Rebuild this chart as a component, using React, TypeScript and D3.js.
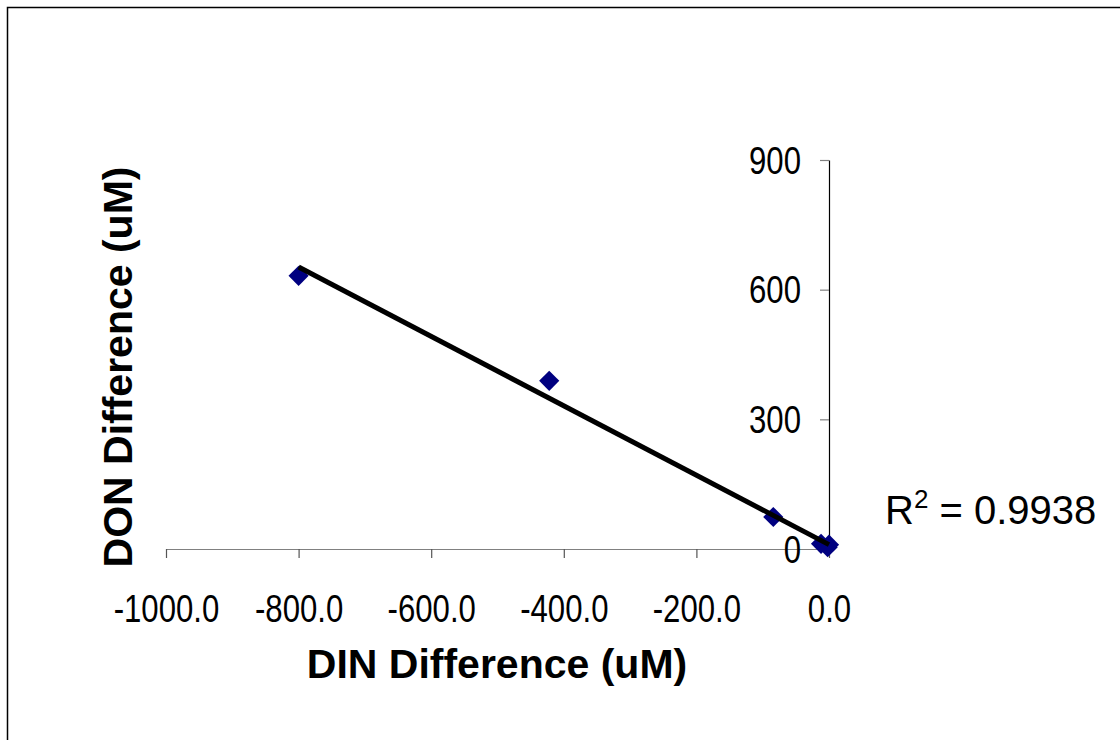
import React, { useEffect, useRef } from "react";
import * as d3 from "d3";

// DIN vs DON difference (uM)
const dinDiff = [-800, -422, -84, -12, -2, 0];
const donDiff = [632, 389, 74, 12, 4, 10];
const xTicks = [-1000, -800, -600, -400, -200, 0];
const yTicks = [0, 300, 600, 900];
const rSquaredLabel = "0.9938";

const W = 1120;
const H = 740;

export default function App() {
  const ref = useRef<SVGSVGElement>(null);

  useEffect(() => {
    const svg = d3.select(ref.current);
    svg.selectAll("*").remove();

    const x = d3.scaleLinear().domain([-1000, 0]).range([166, 829]);
    const y = d3.scaleLinear().domain([0, 900]).range([549, 160]);
    const sans = "'Liberation Sans', Arial, sans-serif";
    // no narrow font installed, squeeze the regular one instead
    const squeeze = 0.82;

    // outer frame, it runs past the right and bottom edges
    svg
      .append("rect")
      .attr("x", 7.5)
      .attr("y", 7.5)
      .attr("width", W + 20)
      .attr("height", H + 20)
      .attr("fill", "white")
      .attr("stroke", "black")
      .attr("stroke-width", 1.5);

    // x axis
    const gx = svg.append("g").attr("transform", `translate(0,${y(0)})`);
    gx.call(
      d3
        .axisBottom(x)
        .tickValues(xTicks)
        .tickSize(9)
        .tickSizeOuter(0)
        .tickFormat((d) => (d as number).toFixed(1))
    );
    gx.select(".domain").attr("stroke", "#808080").attr("stroke-width", 1.2);
    gx.selectAll(".tick line").attr("stroke", "#555").attr("stroke-width", 1.2);
    gx.selectAll(".tick text")
      .attr("font-family", sans)
      .attr("font-size", 38)
      .attr("fill", "black")
      .attr("transform", `scale(${squeeze},1)`)
      .attr("y", 0)
      .attr("dy", 73);

    // y axis, ticks pointing left, labels pushed away from the line
    const gy = svg.append("g").attr("transform", `translate(${x(0)},0)`);
    gy.call(d3.axisLeft(y).tickValues(yTicks).tickSize(9).tickSizeOuter(0).tickFormat(d3.format("d")));
    gy.select(".domain").attr("stroke", "black").attr("stroke-width", 1.2);
    gy.selectAll(".tick line").attr("stroke", "#808080").attr("stroke-width", 1.2);
    gy.selectAll(".tick text")
      .attr("font-family", sans)
      .attr("font-size", 38)
      .attr("fill", "black")
      .attr("transform", `scale(${squeeze},1)`)
      .attr("x", -28 / squeeze)
      .attr("dy", "0.35em");

    // least squares trendline over the data range
    const mx = d3.mean(dinDiff)!;
    const my = d3.mean(donDiff)!;
    let sxy = 0;
    let sxx = 0;
    dinDiff.forEach((v, i) => {
      sxy += (v - mx) * (donDiff[i] - my);
      sxx += (v - mx) * (v - mx);
    });
    const slope = sxy / sxx;
    const icpt = my - slope * mx;
    const [x0, x1] = d3.extent(dinDiff) as [number, number];

    const pts = dinDiff.map((v, i) => [v, donDiff[i]] as [number, number]);

    svg
      .append("g")
      .selectAll("path")
      .data(pts)
      .join("path")
      .attr("d", d3.symbol().type(d3.symbolDiamond2).size(260))
      .attr("transform", (d) => `translate(${x(d[0])},${y(d[1])})`)
      .attr("fill", "#000080");

    svg
      .append("path")
      .datum([
        [x0, slope * x0 + icpt],
        [x1, slope * x1 + icpt],
      ] as [number, number][])
      .attr(
        "d",
        d3
          .line<[number, number]>()
          .x((d) => x(d[0]))
          .y((d) => y(d[1]))
      )
      .attr("stroke", "black")
      .attr("stroke-width", 5)
      .attr("fill", "none");

    // R squared label
    const r2 = svg
      .append("text")
      .attr("x", 885)
      .attr("y", 524)
      .attr("font-family", sans)
      .attr("font-size", 40)
      .attr("fill", "black");
    r2.append("tspan").text("R");
    r2.append("tspan").attr("font-size", 26).attr("dy", -16).text("2");
    r2.append("tspan").attr("dy", 16).text(` = ${rSquaredLabel}`);

    // axis titles
    svg
      .append("text")
      .attr("x", 497)
      .attr("y", 678)
      .attr("text-anchor", "middle")
      .attr("font-family", sans)
      .attr("font-weight", "bold")
      .attr("font-size", 41)
      .text("DIN Difference (uM)");

    svg
      .append("text")
      .attr("transform", "translate(132,367) rotate(-90)")
      .attr("text-anchor", "middle")
      .attr("font-family", sans)
      .attr("font-weight", "bold")
      .attr("font-size", 41)
      .text("DON Difference (uM)");
  }, []);

  return (
    <svg
      ref={ref}
      width={W}
      height={H}
      style={{ position: "absolute", left: 0, top: 0, background: "white" }}
    />
  );
}
